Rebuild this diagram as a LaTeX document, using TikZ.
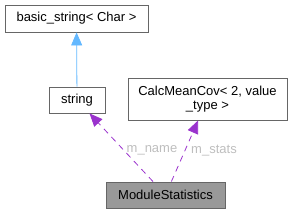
\documentclass[tikz,border=0pt]{standalone}
\usepackage{fontspec}
\setmainfont{Liberation Sans}
\usepackage{xcolor}
\usepackage{tikz}
\usetikzlibrary{arrows.meta}

\definecolor{edgegray}{HTML}{666666}
\definecolor{nodegray}{HTML}{999999}
\definecolor{inhblue}{HTML}{63B8FF}
\definecolor{usepurple}{HTML}{9A32CD}
\definecolor{labelgray}{HTML}{BEBEBE}

\begin{document}
\begin{tikzpicture}[x=1pt, y=-1pt,
        every node/.style={font=\fontsize{13}{14.5}\selectfont},
        cls/.style={draw=edgegray, line width=0.9pt, fill=white, inner sep=0pt, align=center},
        inherit/.style={draw=inhblue, line width=0.8pt, -{Triangle[length=13pt,width=11pt,fill=inhblue]}},
        member/.style={draw=usepurple, line width=0.8pt, dash pattern=on 6pt off 5pt, -{Triangle[length=13pt,width=11pt,fill=usepurple]}},
        lbl/.style={text=labelgray}]
        \useasboundingbox (0,0) rectangle (295,213);
        \node[cls, minimum width=143pt, minimum height=27pt] (basicstr) at (76.5,18.5) {basic\_string< Char >};
        \node[cls, minimum width=56pt, minimum height=26pt] (str) at (77,100) {string};
        \node[cls, minimum width=159pt, minimum height=42pt] (calc) at (207.5,99) {CalcMeanCov< 2, value\\\_type >};
        \node[cls, fill=nodegray, minimum width=119pt, minimum height=26pt] (modstat) at (165.5,195) {ModuleStatistics};
        \node[lbl] (lname) at (152,150.5) {m\_name};
        \node[lbl] (lstats) at (214,150.5) {m\_stats};
        \draw[inherit] (str) -- (basicstr);
        \draw[member] (modstat) -- (str);
        \draw[member] (modstat) -- (calc);
    \end{tikzpicture}
\end{document}
